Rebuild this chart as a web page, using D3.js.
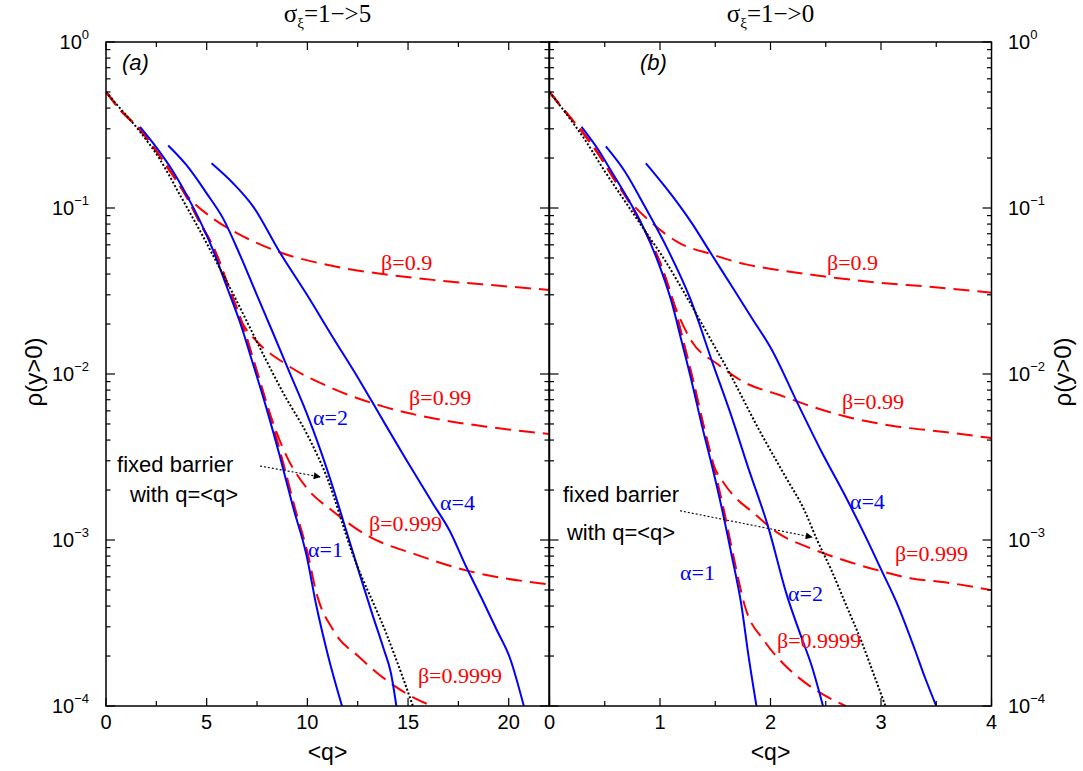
<!DOCTYPE html>
<html>
<head>
<meta charset="utf-8">
<script src="https://cdn.jsdelivr.net/npm/d3@7"></script>
<style>
  body { margin: 0; background: #fff; }
  svg { display: block; }
</style>
</head>
<body>
<script>
// ---------------- data: p(y>0) versus <q> ----------------
// panel (a): sigma_xi 1 -> 5, panel (b): sigma_xi 1 -> 0
const xDomainA = [0, 22];
const xDomainB = [0, 4];
const xMajorA = [0, 5, 10, 15, 20];
const xMinorA = [2.5, 7.5, 12.5, 17.5];
const xMajorB = [0, 1, 2, 3, 4];
const xMinorB = [0.5, 1.5, 2.5, 3.5];
const yExponents = [0, -1, -2, -3, -4];

// fixed barrier with q = <q>
const fixedA = [[0,0.5],[0.69,0.400],[1.69,0.288],[2.68,0.196],[3.67,0.120],[4.66,0.0731],[5.49,0.0472],[6.31,0.0304],[7.14,0.0191],[7.97,0.0120],[8.79,0.00773],[10.03,0.00423],[10.94,0.00244],[12.26,8.17e-4],[13.92,2.73e-4],[14.66,1.58e-4],[15.24,1.0e-4]];
const fixedB = [[0,0.5],[0.139,0.379],[0.320,0.258],[0.501,0.166],[0.682,0.110],[0.863,0.0731],[1.044,0.0485],[1.225,0.0304],[1.406,0.0186],[1.647,0.00962],[1.888,0.00472],[2.130,0.00244],[2.311,0.00149],[2.416,0.00102],[2.552,6.56e-4],[2.673,4.23e-4],[2.824,2.44e-4],[2.944,1.49e-4],[3.04,1.0e-4]];

// alpha curves (solid blue)
const alpha1A = [[1.69,0.308],[2.51,0.231],[3.26,0.171],[4.0,0.120],[4.66,0.0839],[5.32,0.0556],[5.98,0.0340],[6.64,0.0207],[7.31,0.0114],[7.97,0.00621],[8.63,0.00321],[9.29,0.00158],[9.95,8.17e-4],[10.45,4.0e-4],[11.05,1.96e-4],[11.72,1.0e-4]];
const alpha2A = [[3.09,0.238],[4.0,0.181],[4.99,0.123],[5.82,0.0863],[6.64,0.0526],[7.47,0.0304],[8.30,0.0176],[9.12,0.0102],[9.95,0.00587],[10.61,0.00359],[11.27,0.00207],[11.93,0.00114],[12.60,6.21e-4],[13.22,3.59e-4],[13.80,2.19e-4],[14.15,1.58e-4],[14.42,1.0e-4]];
const alpha4A = [[5.24,0.186],[6.31,0.141],[7.31,0.102],[8.63,0.0541],[9.95,0.0304],[11.27,0.0166],[12.60,0.00912],[13.75,0.00526],[14.91,0.00304],[16.23,0.00166],[17.06,0.00114],[17.88,6.92e-4],[18.65,4.47e-4],[19.40,2.88e-4],[20.05,1.96e-4],[20.75,1.0e-4]];
const alpha1B = [[0.290,0.308],[0.440,0.225],[0.561,0.166],[0.712,0.113],[0.863,0.0731],[0.983,0.0472],[1.104,0.0273],[1.195,0.0158],[1.285,0.00912],[1.376,0.00499],[1.466,0.00288],[1.557,0.00158],[1.647,8.17e-4],[1.738,4.0e-4],[1.798,2.07e-4],[1.873,1.0e-4]];
const alpha2B = [[0.510,0.235],[0.682,0.166],[0.863,0.102],[1.074,0.0556],[1.270,0.0288],[1.481,0.0114],[1.647,0.00556],[1.798,0.00273],[1.979,0.00120],[2.145,4.72e-4],[2.281,2.58e-4],[2.371,1.76e-4],[2.475,1.0e-4]];
const alpha4B = [[0.872,0.186],[1.104,0.120],[1.285,0.0817],[1.466,0.0526],[1.647,0.0340],[1.828,0.0219],[2.009,0.0141],[2.250,0.00656],[2.462,0.00340],[2.673,0.00186],[2.854,0.00107],[3.005,6.56e-4],[3.155,4.0e-4],[3.306,2.19e-4],[3.397,1.49e-4],[3.50,1.0e-4]];

// beta curves (dashed red): common early branch, then each beta leaves it
const betaHeadA = [[0,0.5],[0.69,0.392],[1.69,0.296],[2.51,0.219],[3.26,0.162],[4.0,0.117],[4.66,0.0817],[5.40,0.0556],[6.07,0.0340],[6.73,0.0207],[7.39,0.0114],[8.05,0.00621],[8.71,0.00321],[9.37,0.00158],[10.03,8.17e-4]];
const beta09TailA = [[4.0,0.120],[5.32,0.0863],[6.64,0.0692],[8.63,0.0541],[11.27,0.0447],[13.75,0.0400],[16.23,0.0369],[19.54,0.0340],[22,0.0321]];
const beta099TailA = [[7.47,0.0158],[8.96,0.0114],[11.27,0.00817],[13.75,0.00638],[16.23,0.00541],[18.71,0.00485],[22,0.00435]];
const beta0999TailA = [[8.96,0.00321],[9.95,0.00207],[11.27,0.00149],[12.93,0.00107],[15.40,8.17e-4],[17.88,6.56e-4],[22,5.41e-4]];
const beta09999TailA = [[10.45,4.79e-4],[11.27,2.88e-4],[12.60,1.96e-4],[14.25,1.34e-4],[15.3,1.12e-4],[16.2,1.0e-4]];

const betaHeadB = [[0,0.5],[0.139,0.383],[0.290,0.291],[0.440,0.213],[0.576,0.153],[0.727,0.107],[0.863,0.0731],[0.998,0.0472],[1.119,0.0273],[1.210,0.0158],[1.300,0.00912],[1.391,0.00499],[1.481,0.00288],[1.572,0.00158],[1.662,8.17e-4]];
const beta09TailB = [[0.712,0.113],[0.923,0.0817],[1.164,0.0621],[1.466,0.0526],[1.768,0.0459],[2.069,0.0423],[2.462,0.0389],[2.974,0.0355],[3.427,0.0336],[4.0,0.0309]];
const beta099TailB = [[1.285,0.0158],[1.526,0.0114],[1.768,0.00887],[2.069,0.00752],[2.371,0.00638],[2.673,0.00556],[3.125,0.00485],[3.578,0.00447],[4.0,0.00411]];
const beta0999TailB = [[1.58,0.00219],[1.69,0.00178],[1.828,0.00149],[2.069,0.00110],[2.371,8.87e-4],[2.673,7.52e-4],[2.974,6.56e-4],[3.276,5.87e-4],[3.578,5.56e-4],[4.0,4.99e-4]];
const beta09999TailB = [[1.768,4.0e-4],[1.949,2.44e-4],[2.130,1.76e-4],[2.341,1.34e-4],[2.68,1.0e-4]];

// series labels: [text, q, p at text centre]
const labelsA = [
  ["β=0.9", 13.66, 0.0467, "red"], ["β=0.99", 15.05, 0.00716, "red"],
  ["β=0.999", 13.06, 0.00125, "red"], ["β=0.9999", 15.49, 1.52e-4, "red"],
  ["α=1", 10.03, 8.71e-4, "blue"], ["α=2", 10.28, 0.00543, "blue"], ["α=4", 16.59, 0.00167, "blue"]
];
const labelsB = [
  ["β=0.9", 2.511, 0.0467, "red"], ["β=0.99", 2.647, 0.00678, "red"],
  ["β=0.999", 3.126, 8.24e-4, "red"], ["β=0.9999", 2.059, 2.47e-4, "red"],
  ["α=1", 1.181, 6.32e-4, "blue"], ["α=2", 2.158, 4.73e-4, "blue"], ["α=4", 2.719, 0.00169, "blue"]
];
// annotation text lines and arrow ([q, p] of start and tip)
const noteA = { lines: [["fixed barrier", 0.55, 0.00287], ["with q=<q>", 1.19, 0.00189]], arrow: [[7.65, 0.00279], [10.63, 0.00240]] };
const noteB = { lines: [["fixed barrier", 0.122, 0.00189], ["with q=<q>", 0.158, 0.00112]], arrow: [[1.181, 0.00150], [2.376, 0.00104]] };

// ---------------- drawing ----------------
const W = 1083, H = 771;
const plotTop = 42, plotBottom = 706;
const RED = "#ff0000", BLUE = "#0000ff";
const SANS = "'Liberation Sans', Arial, sans-serif";
const SERIF = "'Liberation Serif', 'Times New Roman', serif";

const svg = d3.select("body").append("svg").attr("width", W).attr("height", H);
const defs = svg.append("defs");
defs.append("marker").attr("id", "arrowhead").attr("viewBox", "0 0 10 10")
  .attr("refX", 9).attr("refY", 5).attr("markerWidth", 10).attr("markerHeight", 7)
  .attr("markerUnits", "userSpaceOnUse").attr("orient", "auto")
  .append("path").attr("d", "M0,0 L10,5 L0,10 z").attr("fill", "#000");

const y = d3.scaleLog().domain([1e-4, 1]).range([plotBottom, plotTop]);

const panels = [
  { id: "a", left: 106, right: 549, domain: xDomainA, major: xMajorA, minor: xMinorA,
    fixed: fixedA, alphas: [alpha1A, alpha2A, alpha4A],
    betas: [[betaHeadA.filter(d => d[0] < 3.5), beta09TailA],
            [betaHeadA.filter(d => d[0] < 7), beta099TailA],
            [betaHeadA.filter(d => d[0] < 8.5), beta0999TailA],
            [betaHeadA, beta09999TailA]],
    labels: labelsA, note: noteA, tag: "(a)", tagX: 122, title: "=1−>5" },
  { id: "b", left: 549.5, right: 991.5, domain: xDomainB, major: xMajorB, minor: xMinorB,
    fixed: fixedB, alphas: [alpha1B, alpha2B, alpha4B],
    betas: [[betaHeadB.filter(d => d[0] < 0.6), beta09TailB],
            [betaHeadB.filter(d => d[0] < 1.15), beta099TailB],
            [betaHeadB.filter(d => d[0] < 1.5), beta0999TailB],
            [betaHeadB, beta09999TailB]],
    labels: labelsB, note: noteB, tag: "(b)", tagX: 640, title: "=1−>0" }
];

// y minor tick values (2..9 x 10^k)
const yMinor = [];
for (let e = -4; e < 0; e++) for (let m = 2; m <= 9; m++) yMinor.push(m * Math.pow(10, e));

panels.forEach(P => {
  const x = d3.scaleLinear().domain(P.domain).range([P.left, P.right]);
  const g = svg.append("g");
  const clipId = "clip-" + P.id;
  defs.append("clipPath").attr("id", clipId).append("rect")
    .attr("x", P.left).attr("y", plotTop).attr("width", P.right - P.left).attr("height", plotBottom - plotTop);

  const line = d3.line().x(d => x(d[0])).y(d => y(d[1])).curve(d3.curveMonotoneX);
  const plot = g.append("g").attr("clip-path", `url(#${clipId})`);

  // beta curves
  P.betas.forEach(([head, tail]) => {
    const pts = head.concat(tail.filter(d => d[0] > head[head.length - 1][0]));
    plot.append("path").attr("d", line(pts)).attr("fill", "none")
      .attr("stroke", RED).attr("stroke-width", 2).attr("stroke-dasharray", "16,8");
  });
  // alpha curves
  P.alphas.forEach(pts => {
    plot.append("path").attr("d", line(pts)).attr("fill", "none")
      .attr("stroke", BLUE).attr("stroke-width", 2);
  });
  // fixed barrier
  plot.append("path").attr("d", line(P.fixed)).attr("fill", "none")
    .attr("stroke", "#000").attr("stroke-width", 2).attr("stroke-dasharray", "2,2");

  // frame
  g.append("rect").attr("x", P.left).attr("y", plotTop).attr("width", P.right - P.left)
    .attr("height", plotBottom - plotTop).attr("fill", "none").attr("stroke", "#000").attr("stroke-width", 1.5);

  // inward ticks on all four sides
  const ticks = g.append("g").attr("stroke", "#000").attr("stroke-width", 1.2);
  P.major.concat(P.minor).forEach(v => {
    const len = P.major.includes(v) ? 8 : 5;
    const xx = x(v);
    ticks.append("line").attr("x1", xx).attr("x2", xx).attr("y1", plotBottom).attr("y2", plotBottom - len);
    ticks.append("line").attr("x1", xx).attr("x2", xx).attr("y1", plotTop).attr("y2", plotTop + len);
  });
  yExponents.map(e => Math.pow(10, e)).concat(yMinor).forEach(v => {
    const len = yMinor.includes(v) ? 4.5 : 9;
    const yy = y(v);
    ticks.append("line").attr("x1", P.left).attr("x2", P.left + len).attr("y1", yy).attr("y2", yy);
    ticks.append("line").attr("x1", P.right).attr("x2", P.right - len).attr("y1", yy).attr("y2", yy);
  });

  // x tick labels
  P.major.forEach(v => {
    g.append("text").attr("x", x(v)).attr("y", 729).attr("text-anchor", "middle")
      .style("font", `20px ${SANS}`).text(v);
  });
  // x axis title
  g.append("text").attr("x", (P.left + P.right) / 2).attr("y", 760).attr("text-anchor", "middle")
    .style("font", `23px ${SANS}`).text("<q>");

  // panel title with subscript
  const t = g.append("text").attr("x", (P.left + P.right) / 2).attr("y", 22)
    .attr("text-anchor", "middle").style("font", `25px ${SERIF}`);
  t.append("tspan").text("σ");
  t.append("tspan").attr("dy", 6).style("font-size", "15px").text("ξ");
  t.append("tspan").attr("dy", -6).text(P.title);

  // panel tag
  g.append("text").attr("x", P.tagX).attr("y", 70)
    .style("font", `italic 22px ${SANS}`).text(P.tag);

  // series labels
  P.labels.forEach(([txt, q, p, c]) => {
    g.append("text").attr("x", x(q)).attr("y", y(p) + 7)
      .attr("fill", c === "red" ? RED : BLUE).style("font", `22px ${SERIF}`).text(txt);
  });

  // fixed-barrier annotation
  P.note.lines.forEach(([txt, q, p]) => {
    g.append("text").attr("x", x(q)).attr("y", y(p) + 8)
      .style("font", `22px ${SANS}`).text(txt);
  });
  const [a0, a1] = P.note.arrow;
  g.append("line").attr("x1", x(a0[0])).attr("y1", y(a0[1]))
    .attr("x2", x(a1[0])).attr("y2", y(a1[1]))
    .attr("stroke", "#000").attr("stroke-width", 1.1).attr("stroke-dasharray", "2,2")
    .attr("marker-end", "url(#arrowhead)");
});

// y tick labels, left and right
function powerLabel(xPos, yPos, e, anchor) {
  const t = svg.append("text").attr("x", xPos).attr("y", yPos + 7)
    .attr("text-anchor", anchor).style("font", `20px ${SANS}`);
  t.append("tspan").text("10");
  t.append("tspan").attr("dy", -10).style("font-size", "13px").text(e === 0 ? "0" : "−" + (-e));
}
yExponents.forEach(e => {
  powerLabel(89, y(Math.pow(10, e)), e, "end");
  powerLabel(1008, y(Math.pow(10, e)), e, "start");
});

// y axis titles
[34, 1063].forEach(xPos => {
  svg.append("text").attr("transform", `translate(${xPos},372) rotate(-90)`)
    .attr("text-anchor", "middle").attr("dy", "0.35em")
    .style("font", `24px ${SANS}`).text("ρ(y>0)");
});
</script>
</body>
</html>
